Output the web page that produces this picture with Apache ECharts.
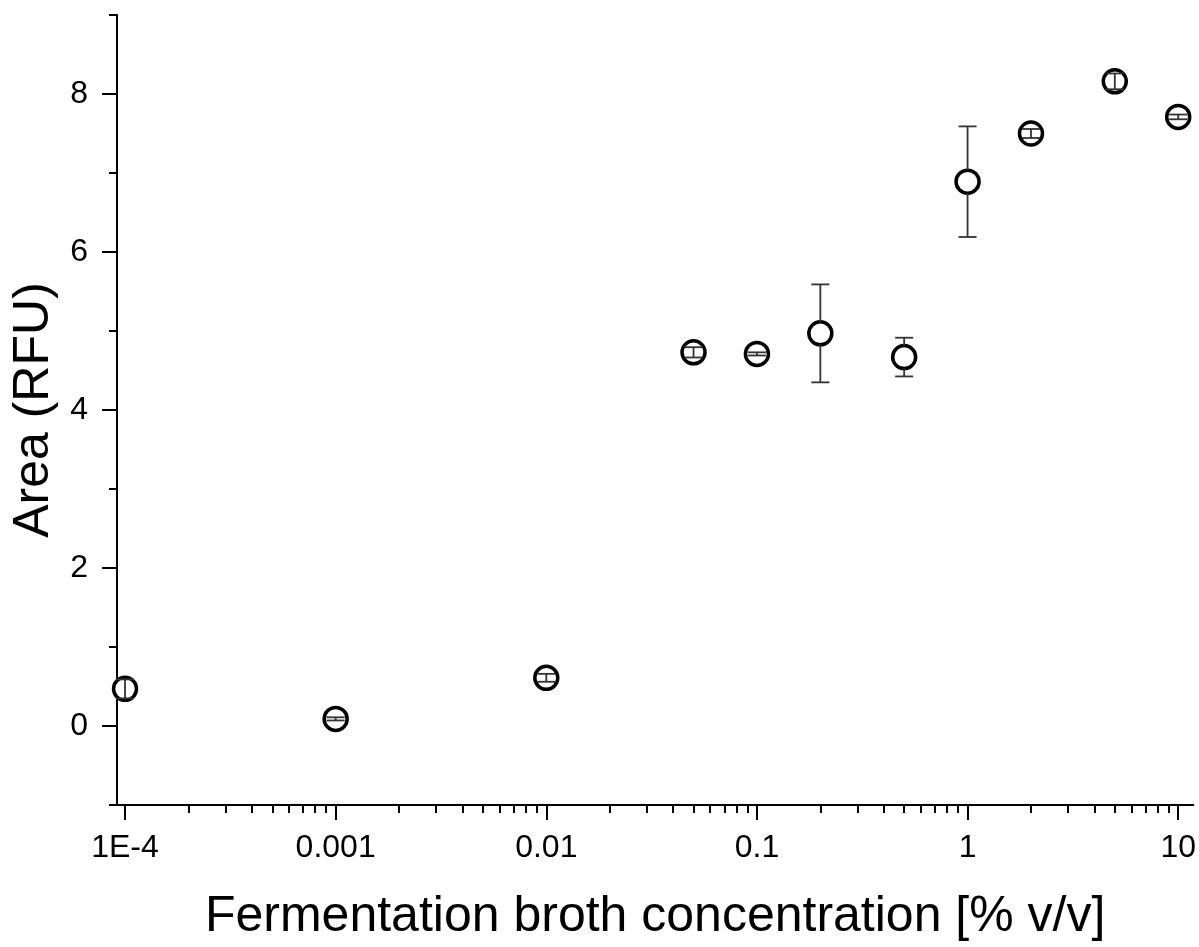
<!DOCTYPE html>
<html>
<head>
<meta charset="utf-8">
<script src="https://cdn.jsdelivr.net/npm/echarts@6/dist/echarts.min.js"></script>
<style>
  html, body { margin: 0; padding: 0; background: #fff; }
  #chart { width: 1199px; height: 947px; }
</style>
</head>
<body>
<div id="chart"></div>
<script>
// concentration [% v/v], area (RFU), error (half height of bar)
const concentrations = [0.0001, 0.001, 0.01, 0.05, 0.1, 0.2, 0.5, 1, 2, 5, 10]
const areas = [0.47, 0.09, 0.61, 4.73, 4.71, 4.97, 4.67, 6.89, 7.50, 8.16, 7.71]
const errors = [0.12, 0.02, 0.05, 0.065, 0.02, 0.62, 0.245, 0.70, 0.057, 0.1, 0.03]

const xMajorTicks = [0.0001, 0.001, 0.01, 0.1, 1, 10]
const xTickLabels = ['1E-4', '0.001', '0.01', '0.1', '1', '10']
const yMajorTicks = [0, 2, 4, 6, 8]
const yMinorTicks = [-1, 1, 3, 5, 7, 9]

const xMin = 9.16e-5
const xMax = 11.8
const yMin = -1
const yMax = 9

// log minor ticks 2..9 in each decade inside the axis range
const xMinorTicks = []
for (let d = -5; d <= 1; d++) {
  for (let k = 2; k <= 9; k++) {
    const v = k * Math.pow(10, d)
    if (v >= xMin && v <= xMax) xMinorTicks.push(v)
  }
}

const FONT = '"Liberation Sans", Arial, sans-serif'
const R = 11.5  // circle radius in px, for error bar stems

const chart = echarts.init(document.getElementById('chart'))

const axisLineStyle = { color: '#000', width: 2 }

function xLabel(v) {
  const i = xMajorTicks.findIndex(t => Math.abs(Math.log10(t) - Math.log10(v)) < 1e-6)
  return i >= 0 ? xTickLabels[i] : ''
}

chart.setOption({
  animation: false,
  grid: { left: 117, right: 4, top: 15, bottom: 139, containLabel: false },
  xAxis: [
    {
      type: 'log',
      logBase: 10,
      min: xMin,
      max: xMax,
      position: 'bottom',
      axisLine: { onZero: false, lineStyle: axisLineStyle },
      axisTick: { show: true, inside: false, length: 15, lineStyle: axisLineStyle, customValues: xMajorTicks },
      axisLabel: {
        customValues: xMajorTicks,
        formatter: xLabel,
        margin: 27,
        fontSize: 32,
        fontFamily: FONT,
        color: '#000'
      },
      splitLine: { show: false },
      name: 'Fermentation broth concentration [% v/v]',
      nameLocation: 'middle',
      nameGap: 87,
      nameTextStyle: { fontSize: 50, fontFamily: FONT, color: '#000' }
    },
    {
      type: 'log',
      logBase: 10,
      min: xMin,
      max: xMax,
      position: 'bottom',
      axisLine: { show: false, onZero: false },
      axisTick: { show: true, inside: false, length: 8, lineStyle: axisLineStyle, customValues: xMinorTicks },
      axisLabel: { show: false },
      splitLine: { show: false }
    }
  ],
  yAxis: [
    {
      type: 'value',
      min: yMin,
      max: yMax,
      position: 'left',
      axisLine: { show: true, onZero: false, lineStyle: axisLineStyle },
      axisTick: { show: true, inside: false, length: 15, lineStyle: axisLineStyle, customValues: yMajorTicks },
      axisLabel: {
        customValues: yMajorTicks,
        margin: 29,
        fontSize: 32,
        fontFamily: FONT,
        color: '#000'
      },
      splitLine: { show: false },
      name: 'Area (RFU)',
      nameLocation: 'middle',
      nameGap: 55,
      nameTextStyle: { fontSize: 50, fontFamily: FONT, color: '#000' }
    },
    {
      type: 'value',
      min: yMin,
      max: yMax,
      position: 'left',
      axisLine: { show: false, onZero: false },
      axisTick: { show: true, inside: false, length: 8, lineStyle: axisLineStyle, customValues: yMinorTicks },
      axisLabel: { show: false },
      splitLine: { show: false }
    }
  ],
  series: [
    {
      type: 'scatter',
      xAxisIndex: 0,
      yAxisIndex: 0,
      symbol: 'circle',
      symbolSize: 23,
      itemStyle: { color: '#fff', borderColor: '#000', borderWidth: 3.5, opacity: 1 },
      data: concentrations.map((c, i) => [c, areas[i]]),
      z: 3
    },
    {
      type: 'custom',
      xAxisIndex: 0,
      yAxisIndex: 0,
      z: 4,
      data: concentrations.map((c, i) => [c, areas[i], errors[i]]),
      renderItem: (params, api) => {
        const x = api.value(0)
        const y = api.value(1)
        const e = api.value(2)
        const c = api.coord([x, y])
        const top = api.coord([x, y + e])
        const bot = api.coord([x, y - e])
        const half = 9
        const style = { stroke: '#333', lineWidth: 1.8 }
        const children = [
          { type: 'line', shape: { x1: top[0] - half, y1: top[1], x2: top[0] + half, y2: top[1] }, style },
          { type: 'line', shape: { x1: bot[0] - half, y1: bot[1], x2: bot[0] + half, y2: bot[1] }, style }
        ]
        if (c[1] - top[1] > R) {
          children.push({ type: 'line', shape: { x1: c[0], y1: top[1], x2: c[0], y2: c[1] - R }, style })
          children.push({ type: 'line', shape: { x1: c[0], y1: c[1] + R, x2: c[0], y2: bot[1] }, style })
        } else {
          children.push({ type: 'line', shape: { x1: c[0], y1: top[1], x2: c[0], y2: bot[1] }, style })
        }
        return { type: 'group', children }
      }
    }
  ]
})
</script>
</body>
</html>
